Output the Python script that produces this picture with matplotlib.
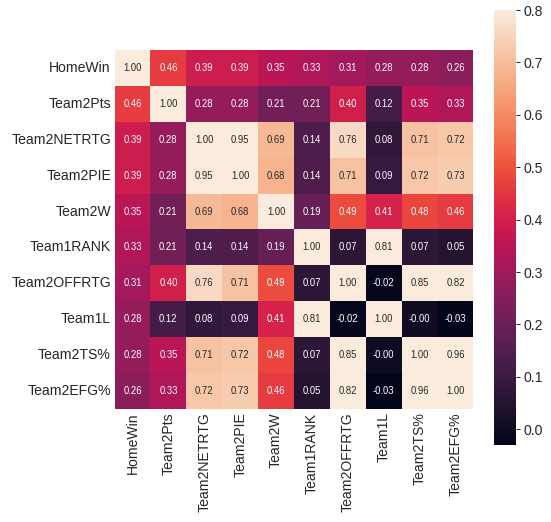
import matplotlib
matplotlib.use("Agg")
import matplotlib.pyplot as plt
import numpy as np
import pandas as pd
import seaborn as sns

labels = ["HomeWin", "Team2Pts", "Team2NETRTG", "Team2PIE", "Team2W",
          "Team1RANK", "Team2OFFRTG", "Team1L", "Team2TS%", "Team2EFG%"]

# correlation matrix
corr = np.array([
    [1.00, 0.46, 0.39, 0.39, 0.35, 0.33, 0.31, 0.28, 0.28, 0.26],
    [0.46, 1.00, 0.28, 0.28, 0.21, 0.21, 0.40, 0.12, 0.35, 0.33],
    [0.39, 0.28, 1.00, 0.95, 0.69, 0.14, 0.76, 0.08, 0.71, 0.72],
    [0.39, 0.28, 0.95, 1.00, 0.68, 0.14, 0.71, 0.09, 0.72, 0.73],
    [0.35, 0.21, 0.69, 0.68, 1.00, 0.19, 0.49, 0.41, 0.48, 0.46],
    [0.33, 0.21, 0.14, 0.14, 0.19, 1.00, 0.07, 0.81, 0.07, 0.05],
    [0.31, 0.40, 0.76, 0.71, 0.49, 0.07, 1.00, -0.02, 0.85, 0.82],
    [0.28, 0.12, 0.08, 0.09, 0.41, 0.81, -0.02, 1.00, -0.00, -0.03],
    [0.28, 0.35, 0.71, 0.72, 0.48, 0.07, 0.85, -0.00, 1.00, 0.96],
    [0.26, 0.33, 0.72, 0.73, 0.46, 0.05, 0.82, -0.03, 0.96, 1.00],
])
df = pd.DataFrame(corr, index=labels, columns=labels)

sns.set_style("white")
plt.rcParams['font.family'] = ['Liberation Sans', 'DejaVu Sans']

fig = plt.figure(figsize=(551 / 72, 522 / 72), dpi=72)
ax = fig.add_axes([114 / 551, (522 - 409) / 522, 360 / 551, 359 / 522])
cax = fig.add_axes([494 / 551, (522 - 445) / 522, 22 / 551, 435 / 522])

sns.heatmap(df, vmax=0.8, square=True, annot=True, fmt=".2f",
            annot_kws={"size": 9.5}, ax=ax, cbar_ax=cax)
ax.tick_params(axis="both", labelsize=14, length=0, colors=".15")
cax.tick_params(labelsize=14, length=4, width=1, colors=".15")
plt.setp(ax.get_yticklabels(), rotation=0)
plt.setp(ax.get_xticklabels(), rotation=90)

fig.savefig("out.png", dpi=72)
